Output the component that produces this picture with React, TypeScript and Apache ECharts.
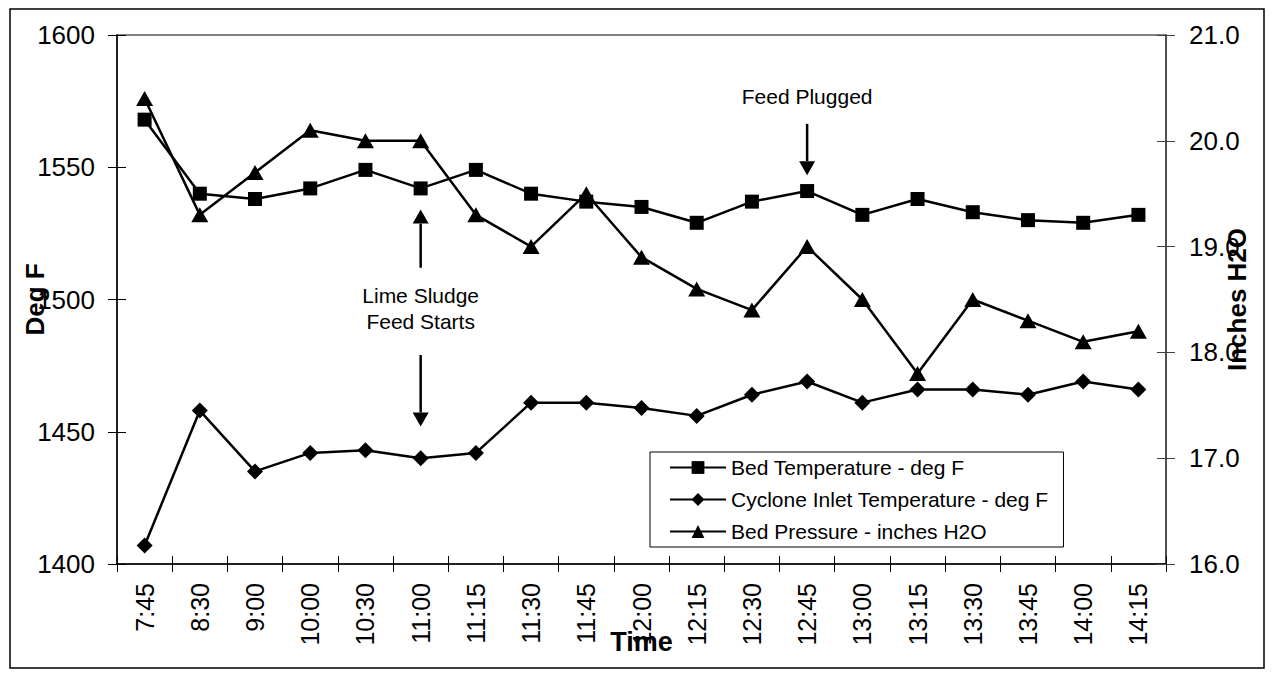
import React, { useEffect, useRef } from "react";
import * as echarts from "echarts";

const categories = ["7:45", "8:30", "9:00", "10:00", "10:30", "11:00", "11:15", "11:30", "11:45", "12:00", "12:15", "12:30", "12:45", "13:00", "13:15", "13:30", "13:45", "14:00", "14:15"];
const bedTemp = [1568, 1540, 1538, 1542, 1549, 1542, 1549, 1540, 1537, 1535, 1529, 1537, 1541, 1532, 1538, 1533, 1530, 1529, 1532];
const cycloneTemp = [1407, 1458, 1435, 1442, 1443, 1440, 1442, 1461, 1461, 1459, 1456, 1464, 1469, 1461, 1466, 1466, 1464, 1469, 1466];
const bedPressure = [20.4, 19.3, 19.7, 20.1, 20.0, 20.0, 19.3, 19.0, 19.5, 18.9, 18.6, 18.4, 19.0, 18.5, 17.8, 18.5, 18.3, 18.1, 18.2];

const seriesNames = ["Bed Temperature - deg F", "Cyclone Inlet Temperature - deg F", "Bed Pressure - inches H2O"];
const leftTicks = { min: 1400, max: 1600, interval: 50 };
const rightTicks = { min: 16, max: 21, interval: 1 };

// annotations anchored to a category and left-axis values
const annoLime = { category: "11:00", lines: ["Lime Sludge", "Feed Starts"], textVals: [1501.7, 1491.5], upFrom: 1512, upTip: 1534, downFrom: 1479, downTip: 1452 };
const annoPlug = { category: "12:45", text: "Feed Plugged", textVal: 1576.6, downFrom: 1566.4, downTip: 1547 };

const FONT = "'Liberation Sans', Arial, sans-serif";

export default function App() {
  const ref = useRef<HTMLDivElement>(null);
  useEffect(() => {
    if (!ref.current) return;
    const chart = echarts.init(ref.current, null, { renderer: "svg" });
    const W = 1258, H = 662;
    const axisCommon = { splitLine: { show: false }, nameMoveOverlap: false };
    chart.setOption({
      animation: false,
      backgroundColor: "#fff",
      textStyle: { fontFamily: FONT, color: "#000" },
      grid: { left: 109, top: 27, width: 1049, height: 529, show: true, borderColor: "#808080", borderWidth: 2, containLabel: false, outerBoundsMode: "none" },
      legend: {
        data: seriesNames,
        orient: "vertical",
        left: 642,
        top: 444,
        borderColor: "#000",
        borderWidth: 1,
        backgroundColor: "#fff",
        padding: [5, 15, 5, 19],
        itemWidth: 56,
        itemHeight: 16,
        itemGap: 11,
        textStyle: { fontSize: 21, color: "#000", fontFamily: FONT },
        z: 10,
      },
      xAxis: [
        {
          type: "category",
          data: categories,
          boundaryGap: true,
          position: "bottom",
          axisLine: { lineStyle: { color: "#000", width: 1.5 } },
          axisTick: { show: true, length: 8, lineStyle: { color: "#000", width: 1 } },
          axisLabel: { rotate: 90, fontSize: 25, margin: 19, color: "#000", fontFamily: FONT },
          name: "Time",
          nameLocation: "middle",
          nameGap: 64,
          nameTextStyle: { fontSize: 27, fontWeight: "bold", color: "#000", fontFamily: FONT },
          ...axisCommon,
        },
        {
          type: "category",
          data: categories,
          boundaryGap: true,
          position: "bottom",
          axisLine: { show: false },
          axisTick: { show: true, inside: true, length: 8, lineStyle: { color: "#000", width: 1 } },
          axisLabel: { show: false },
          ...axisCommon,
        },
      ],
      yAxis: [
        {
          type: "value",
          ...leftTicks,
          position: "left",
          axisLine: { show: true, lineStyle: { color: "#000", width: 1.5 } },
          axisTick: { show: true, length: 9, lineStyle: { color: "#000", width: 1 } },
          axisLabel: { fontSize: 26, margin: 22, color: "#000", fontFamily: FONT, formatter: (v: number) => String(v) },
          name: "Deg F",
          nameLocation: "middle",
          nameRotate: 90,
          nameGap: 69,
          nameTextStyle: { fontSize: 26, fontWeight: "bold", color: "#000", fontFamily: FONT },
          ...axisCommon,
        },
        {
          type: "value",
          ...rightTicks,
          position: "right",
          axisLine: { show: true, lineStyle: { color: "#404040", width: 1.5 } },
          axisTick: { show: true, length: 9, lineStyle: { color: "#404040", width: 1 } },
          axisLabel: { fontSize: 26, margin: 23, color: "#000", fontFamily: FONT, formatter: (v: number) => v.toFixed(1) },
          name: "Inches H2O",
          nameLocation: "middle",
          nameRotate: 90,
          nameGap: 58,
          nameTextStyle: { fontSize: 26, fontWeight: "bold", color: "#000", fontFamily: FONT },
          ...axisCommon,
        },
        {
          type: "value",
          ...leftTicks,
          position: "left",
          axisLine: { show: false },
          axisTick: { show: true, inside: true, length: 9, lineStyle: { color: "#000", width: 1 } },
          axisLabel: { show: false },
          ...axisCommon,
        },
        {
          type: "value",
          ...rightTicks,
          position: "right",
          axisLine: { show: false },
          axisTick: { show: true, inside: true, length: 9, lineStyle: { color: "#404040", width: 1 } },
          axisLabel: { show: false },
          ...axisCommon,
        },
      ],
      series: [
        {
          name: seriesNames[0],
          type: "line",
          data: bedTemp,
          xAxisIndex: 0,
          yAxisIndex: 0,
          symbol: "rect",
          symbolSize: 14,
          itemStyle: { color: "#000" },
          lineStyle: { color: "#000", width: 2.5 },
          z: 3,
        },
        {
          name: seriesNames[1],
          type: "line",
          data: cycloneTemp,
          xAxisIndex: 0,
          yAxisIndex: 0,
          symbol: "diamond",
          symbolSize: 16,
          itemStyle: { color: "#000" },
          lineStyle: { color: "#000", width: 2.5 },
          z: 3,
        },
        {
          name: seriesNames[2],
          type: "line",
          data: bedPressure,
          xAxisIndex: 0,
          yAxisIndex: 1,
          symbol: "triangle",
          symbolSize: [17, 15],
          itemStyle: { color: "#000" },
          lineStyle: { color: "#000", width: 2.5 },
          z: 3,
        },
      ],
    });

    const px = (cat: string, v: number) => chart.convertToPixel({ xAxisIndex: 0, yAxisIndex: 0 }, [cat, v]) as number[];
    const arrow = (x: number, yFrom: number, yTip: number) => {
      const dir = yTip > yFrom ? 1 : -1;
      const headLen = 14;
      const base = yTip - dir * headLen;
      return [
        { type: "line", shape: { x1: x, y1: yFrom, x2: x, y2: base }, style: { stroke: "#000", lineWidth: 2.5 }, z: 20 },
        { type: "polygon", shape: { points: [[x - 8, base], [x + 8, base], [x, yTip]] }, style: { fill: "#000" }, z: 20 },
      ];
    };
    const lx = px(annoLime.category, annoLime.upFrom)[0];
    const gx = px(annoPlug.category, annoPlug.textVal)[0];
    const yOf = (cat: string, v: number) => px(cat, v)[1];
    const graphics: any[] = [
      { type: "rect", shape: { x: 2, y: 1, width: W - 4, height: H - 3 }, style: { fill: "none", stroke: "#000", lineWidth: 1.5 }, z: 0, silent: true },
      ...arrow(lx, yOf(annoLime.category, annoLime.upFrom), yOf(annoLime.category, annoLime.upTip)),
      ...arrow(lx, yOf(annoLime.category, annoLime.downFrom), yOf(annoLime.category, annoLime.downTip)),
      ...annoLime.lines.map((t, i) => ({
        type: "text",
        x: lx,
        y: yOf(annoLime.category, annoLime.textVals[i]),
        style: { text: t, fontSize: 21, fontFamily: FONT, fill: "#000", align: "center", verticalAlign: "middle" },
        z: 20,
      })),
      {
        type: "text",
        x: gx,
        y: yOf(annoPlug.category, annoPlug.textVal),
        style: { text: annoPlug.text, fontSize: 21, fontFamily: FONT, fill: "#000", align: "center", verticalAlign: "middle" },
        z: 20,
      },
      ...arrow(gx, yOf(annoPlug.category, annoPlug.downFrom), yOf(annoPlug.category, annoPlug.downTip)),
    ];
    chart.setOption({ graphic: graphics });
    return () => chart.dispose();
  }, []);
  return <div ref={ref} style={{ width: 1258, height: 662 }} />;
}
